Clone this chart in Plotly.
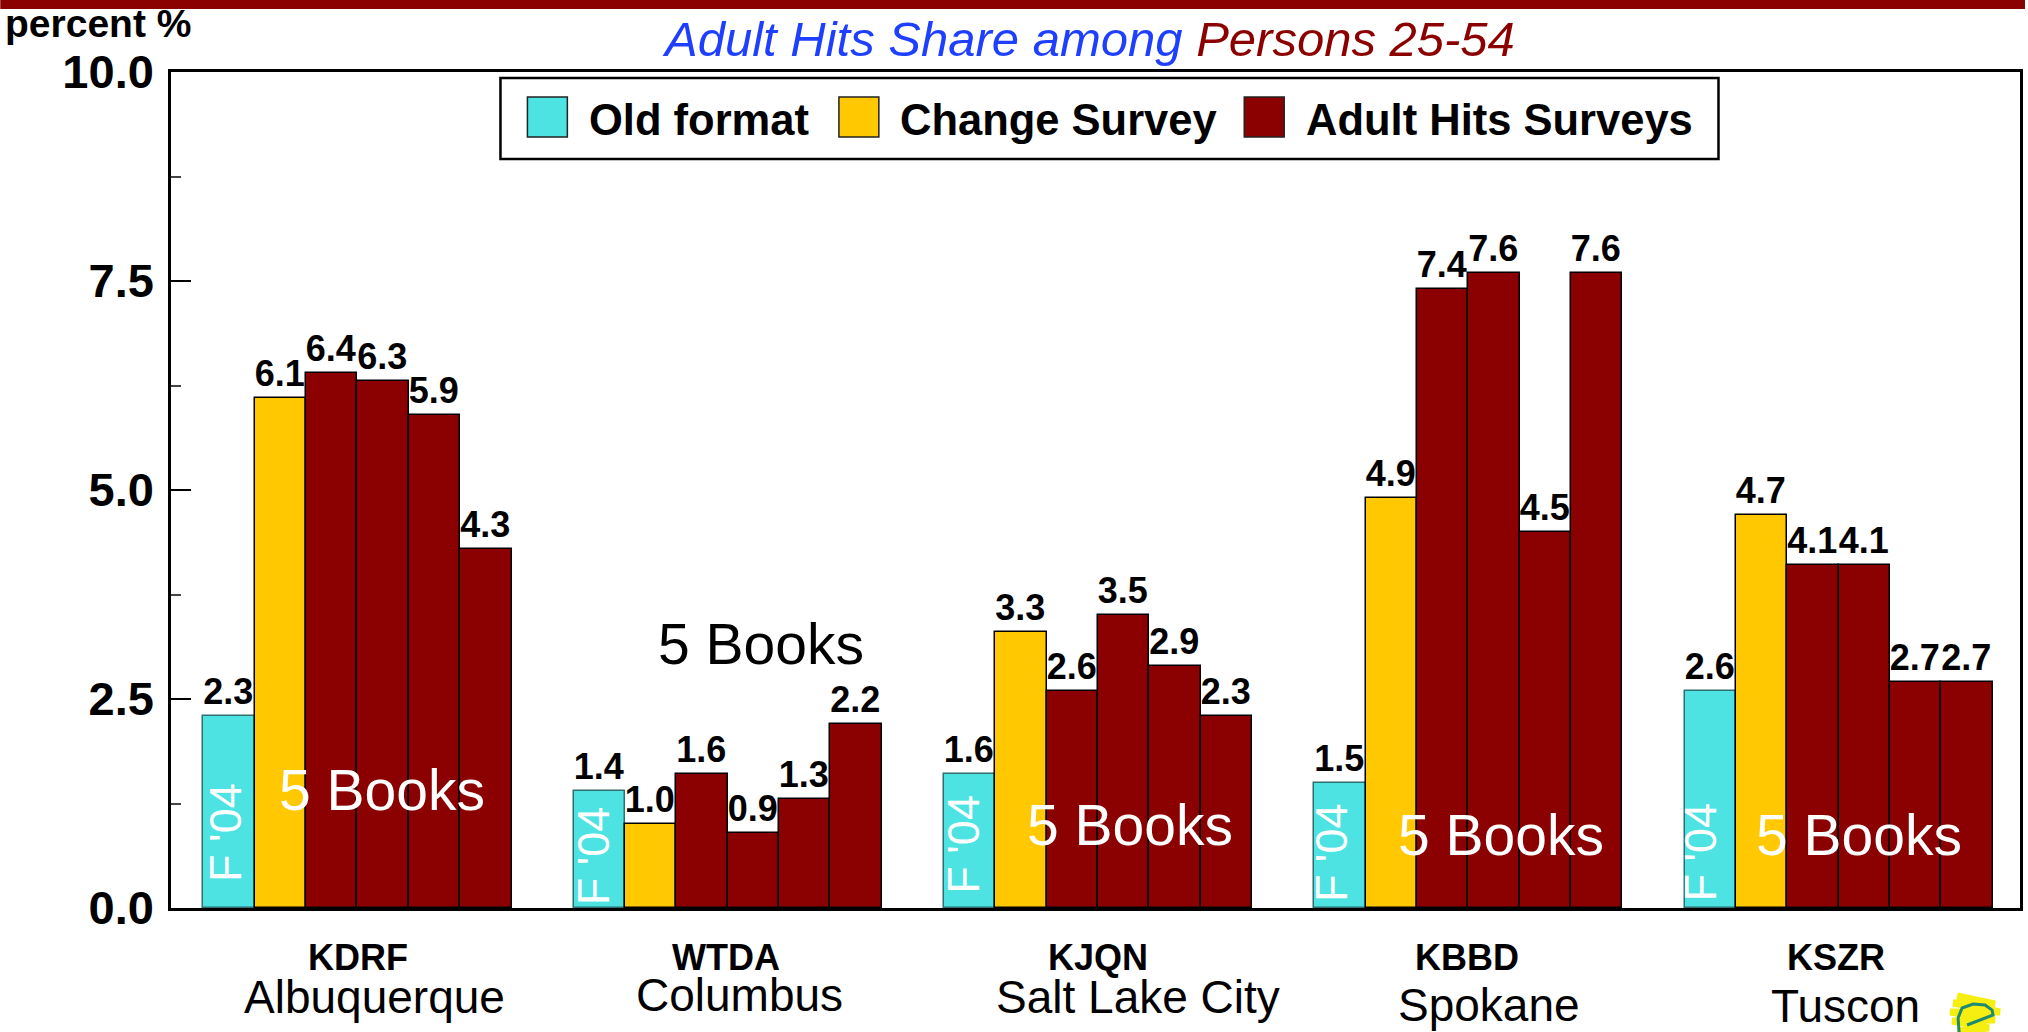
import plotly.graph_objects as go

stations = ["KDRF", "WTDA", "KJQN", "KBBD", "KSZR"]
cities = ["Albuquerque", "Columbus", "Salt Lake City", "Spokane", "Tuscon"]
old_format = [2.3, 1.4, 1.6, 1.5, 2.6]
change_survey = [6.1, 1.0, 3.3, 4.9, 4.7]
adult_hits = [
    [6.4, 6.3, 5.9, 4.3],
    [1.6, 0.9, 1.3, 2.2],
    [2.6, 3.5, 2.9, 2.3],
    [7.4, 7.6, 4.5, 7.6],
    [4.1, 4.1, 2.7, 2.7],
]
series_names = ["Old format", "Change Survey", "Adult Hits Surveys"]
series_colors = ["#4DE3E3", "#FFC800", "#8B0000"]
y_ticks = [0, 2.5, 5, 7.5, 10]
minor_ticks = [1.25, 3.75, 6.25, 8.75]

PERIOD = 7.21
W, H = 2028, 1032
L, R, T, B = 171, 2023, 72, 908
X0, X1 = -1.13, 34.87


def px(x):
    return (x - L) / (R - L)


def py(y):
    return 1 - (y - T) / (B - T)


def group_x(g, i):
    return g * PERIOD + i


label_font = dict(family="Liberation Sans", size=36, color="black")


def bar_trace(x, y, color, name, line_color="black"):
    return go.Bar(
        x=x, y=y, width=1, name=name, showlegend=False,
        marker=dict(color=color, line=dict(color=line_color, width=1.5)),
        text=[f"<b>{v:.1f}</b>" for v in y], textposition="outside",
        textfont=label_font, cliponaxis=False, hoverinfo="x+y",
    )


fig = go.Figure()
fig.add_trace(bar_trace([group_x(g, 0) for g in range(5)], old_format, series_colors[0], series_names[0], "#2f6f6f"))
fig.add_trace(bar_trace([group_x(g, 1) for g in range(5)], change_survey, series_colors[1], series_names[1]))
hx, hy = [], []
for g, vals in enumerate(adult_hits):
    for i, v in enumerate(vals):
        hx.append(group_x(g, i + 2))
        hy.append(v)
fig.add_trace(bar_trace(hx, hy, series_colors[2], series_names[2]))

ann = []
# station and city labels
st_x = [358, 727, 1100, 1469, 1839]
st_y = 958
ci_x = [375, 740, 1140, 1491, 1848]
ci_y = [997, 995, 997, 1005, 1006]
for i in range(5):
    ann.append(dict(x=px(st_x[i]), y=py(st_y), text=f"<b>{stations[i]}</b>",
                    font=dict(family="Liberation Sans", size=36, color="black")))
    ann.append(dict(x=px(ci_x[i]), y=py(ci_y[i]), text=cities[i],
                    font=dict(family="Liberation Sans", size=46, color="black")))

# F '04 labels
f_x = [225, 594, 964, 1333, 1702]
f_y = [832, 856, 844, 853, 852]
for x, y in zip(f_x, f_y):
    ann.append(dict(x=px(x), y=py(y), text="F '04", textangle=-90,
                    font=dict(family="Liberation Sans", size=45, color="white")))

# 5 Books labels
b_x = [382, 762, 1132, 1503, 1862]
b_y = [790, 644, 825, 835, 835]
b_c = ["white", "black", "white", "white", "white"]
for x, y, c in zip(b_x, b_y, b_c):
    ann.append(dict(x=px(x), y=py(y), text="5 Books",
                    font=dict(family="Liberation Sans", size=57, color=c)))

# title and axis caption
ann.append(dict(x=px(1090), y=py(39),
                text="<i><span style='color:#1F3FFF'>Adult Hits Share among</span> "
                     "<span style='color:#8B0000'>Persons 25-54</span></i>",
                font=dict(family="Liberation Sans", size=49)))
ann.append(dict(x=px(98), y=py(24), text="<b>percent %</b>",
                font=dict(family="Liberation Sans", size=39, color="black")))

# legend
shapes = []
LG = dict(l=501, r=1721, t=78, b=159)
shapes.append(dict(type="rect", xref="paper", yref="paper", x0=px(LG["l"]), x1=px(LG["r"]),
                   y0=py(LG["b"]), y1=py(LG["t"]), line=dict(color="black", width=2.5),
                   fillcolor="white", layer="above"))
sw_x = [528, 840, 1246]
lb_x = [588, 899, 1306]
for x, lx, c, n in zip(sw_x, lb_x, series_colors, series_names):
    shapes.append(dict(type="rect", xref="paper", yref="paper", x0=px(x), x1=px(x + 40),
                       y0=py(137), y1=py(97), fillcolor=c,
                       line=dict(color="#222222", width=1.5), layer="above"))
    ann.append(dict(x=px(lx), y=py(120), text=f"<b>{n}</b>", xanchor="left",
                    font=dict(family="Liberation Sans", size=43.5, color="black")))

# top rule
shapes.append(dict(type="rect", xref="paper", yref="paper", x0=px(0), x1=px(W),
                   y0=py(9), y1=py(0), fillcolor="#8B0000", line=dict(width=0), layer="above"))


def path(points):
    return "M" + " L".join(f"{px(x):.5f},{py(y):.5f}" for x, y in points)


# small logo, bottom right
shapes.append(dict(type="path", xref="paper", yref="paper",
                   path=path([(1960, 996), (1998, 1004), (1956, 1003), (2003, 1012), (1953, 1012),
                              (1998, 1020), (1955, 1021), (1992, 1028), (1960, 1031)]),
                   line=dict(color="#F5EE10", width=7), layer="above"))
shapes.append(dict(type="path", xref="paper", yref="paper",
                   path=path([(1962, 1032), (1961, 1018), (1965, 1008), (1976, 1004), (1988, 1005),
                              (1995, 1010), (1996, 1015), (1970, 1025)]),
                   line=dict(color="#1E8A70", width=3), layer="above"))

for a in ann:
    a.setdefault("xref", "paper")
    a.setdefault("yref", "paper")
    a.setdefault("showarrow", False)
    a.setdefault("xanchor", "center")
    a.setdefault("yanchor", "middle")

fig.update_layout(
    width=W, height=H, autosize=False,
    margin=dict(l=L, r=W - R, t=T, b=H - B, pad=0),
    paper_bgcolor="white", plot_bgcolor="white",
    barmode="overlay", bargap=0, showlegend=False,
    annotations=ann, shapes=shapes,
    xaxis=dict(range=[X0, X1], showticklabels=False, ticks="", showgrid=False, zeroline=False,
               showline=True, mirror=True, linecolor="black", linewidth=2.5),
    yaxis=dict(range=[0, 10], tickvals=y_ticks, ticktext=[f"<b>{v:.1f}</b>" for v in y_ticks],
               tickfont=dict(family="Liberation Sans", size=47, color="black"),
               ticklabelstandoff=5,
               ticks="inside", ticklen=20, tickwidth=1.5, tickcolor="black",
               minor=dict(tickvals=minor_ticks, ticks="inside", ticklen=10, tickwidth=1.5, tickcolor="#444444"),
               showgrid=False, zeroline=False,
               showline=True, mirror=True, linecolor="black", linewidth=2.5),
)
fig.write_html("out.html", config={"displayModeBar": False},
               post_script="document.body.style.margin='0';document.body.style.overflow='hidden';")
